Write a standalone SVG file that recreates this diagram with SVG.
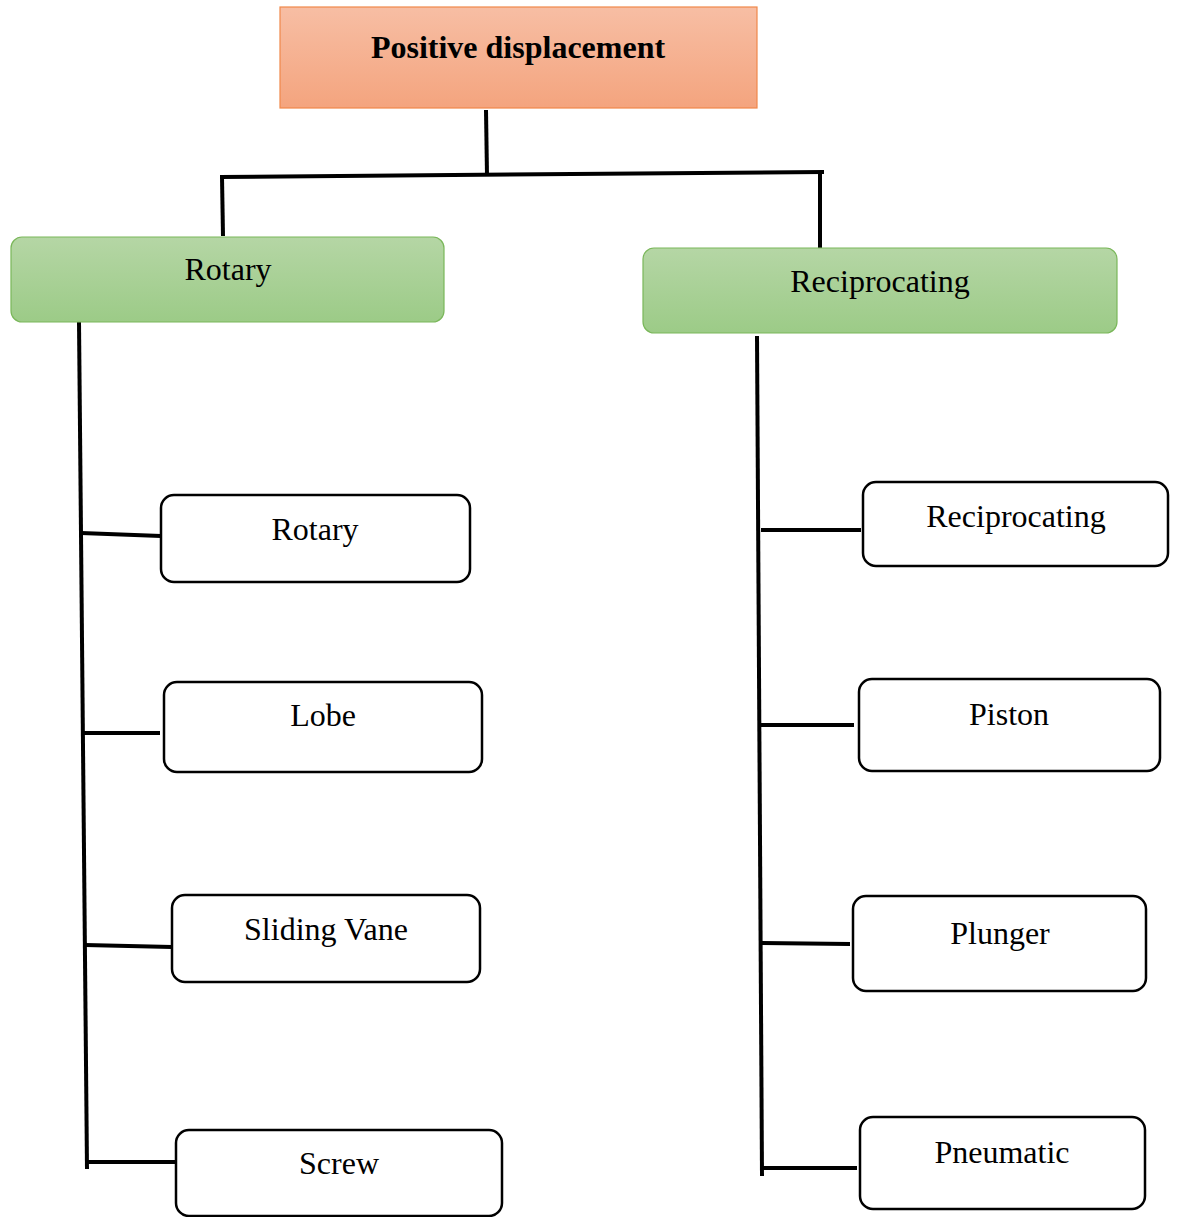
<svg xmlns="http://www.w3.org/2000/svg" width="1178" height="1217" viewBox="0 0 1178 1217">
  <defs>
    <linearGradient id="gOrange" x1="0" y1="0" x2="0" y2="1">
      <stop offset="0" stop-color="#f7bea4"/>
      <stop offset="1" stop-color="#f4a47e"/>
    </linearGradient>
    <linearGradient id="gGreen" x1="0" y1="0" x2="0" y2="1">
      <stop offset="0" stop-color="#b5d6a5"/>
      <stop offset="1" stop-color="#9ccb87"/>
    </linearGradient>
  </defs>
  <style>
    .lbl { font-family: "Liberation Serif", "Times New Roman", serif; font-size: 32px; fill: #000; text-anchor: middle; }
    .bold { font-weight: bold; }
    .leaf { fill: #fff; stroke: #000; stroke-width: 2.5; }
    .cat { fill: url(#gGreen); stroke: #7ab75a; stroke-width: 1.2; }
    .conn { stroke: #000; stroke-width: 4; fill: none; stroke-linecap: butt; }
  </style>

  <rect width="1178" height="1217" fill="#fff"/>

  <g id="connectors">
    <line class="conn" x1="486" y1="110" x2="487" y2="176"/>
    <line class="conn" x1="220" y1="177" x2="824" y2="172"/>
    <line class="conn" x1="222" y1="177" x2="223" y2="236"/>
    <line class="conn" x1="820" y1="172" x2="820" y2="248"/>
    <!-- left trunk and branches -->
    <line class="conn" x1="79" y1="322" x2="87" y2="1169"/>
    <line class="conn" x1="81" y1="533" x2="161" y2="536"/>
    <line class="conn" x1="83" y1="733" x2="160" y2="733"/>
    <line class="conn" x1="85" y1="945" x2="172" y2="947"/>
    <line class="conn" x1="86" y1="1162" x2="176" y2="1162"/>
    <!-- right trunk and branches -->
    <line class="conn" x1="757" y1="336" x2="762" y2="1176"/>
    <line class="conn" x1="761" y1="530" x2="861" y2="530"/>
    <line class="conn" x1="760" y1="725" x2="854" y2="725"/>
    <line class="conn" x1="762" y1="943" x2="850" y2="944"/>
    <line class="conn" x1="762" y1="1168" x2="857" y2="1168"/>
  </g>

  <g id="positive-displacement">
    <rect x="280" y="7" width="477" height="101" fill="url(#gOrange)" stroke="#f0884a" stroke-width="1.2"/>
    <text class="lbl bold" x="518" y="58">Positive displacement</text>
  </g>

  <g id="rotary-category">
    <rect class="cat" x="11" y="237" width="433" height="85" rx="11"/>
    <text class="lbl" x="228" y="280">Rotary</text>
  </g>

  <g id="reciprocating-category">
    <rect class="cat" x="643" y="248" width="474" height="85" rx="11"/>
    <text class="lbl" x="880" y="292">Reciprocating</text>
  </g>

  <g id="rotary">
    <rect class="leaf" x="161" y="495" width="309" height="87" rx="13"/>
    <text class="lbl" x="315" y="540">Rotary</text>
  </g>
  <g id="lobe">
    <rect class="leaf" x="164" y="682" width="318" height="90" rx="13"/>
    <text class="lbl" x="323" y="726">Lobe</text>
  </g>
  <g id="sliding-vane">
    <rect class="leaf" x="172" y="895" width="308" height="87" rx="13"/>
    <text class="lbl" x="326" y="940">Sliding Vane</text>
  </g>
  <g id="screw">
    <rect class="leaf" x="176" y="1130" width="326" height="86" rx="13"/>
    <text class="lbl" x="339" y="1174">Screw</text>
  </g>

  <g id="reciprocating">
    <rect class="leaf" x="863" y="482" width="305" height="84" rx="13"/>
    <text class="lbl" x="1016" y="527">Reciprocating</text>
  </g>
  <g id="piston">
    <rect class="leaf" x="859" y="679" width="301" height="92" rx="13"/>
    <text class="lbl" x="1009" y="725">Piston</text>
  </g>
  <g id="plunger">
    <rect class="leaf" x="853" y="896" width="293" height="95" rx="13"/>
    <text class="lbl" x="1000" y="944">Plunger</text>
  </g>
  <g id="pneumatic">
    <rect class="leaf" x="860" y="1117" width="285" height="92" rx="13"/>
    <text class="lbl" x="1002" y="1163">Pneumatic</text>
  </g>
</svg>
